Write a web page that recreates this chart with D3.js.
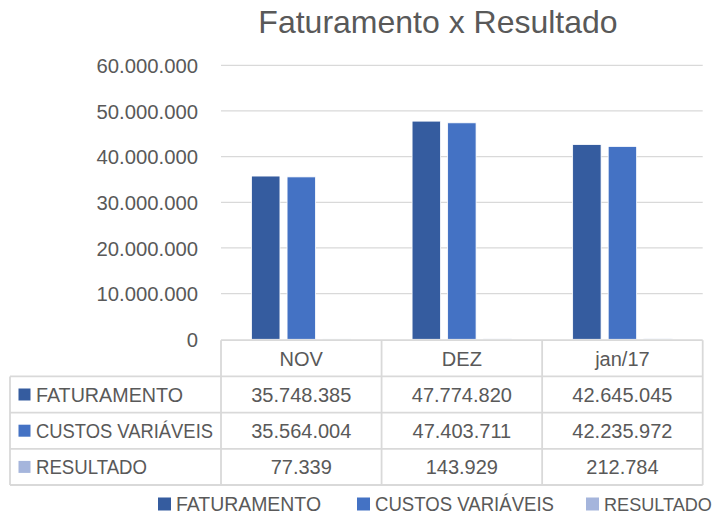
<!DOCTYPE html>
<html>
<head>
<meta charset="utf-8">
<script src="https://cdn.jsdelivr.net/npm/d3@7"></script>
<style>
  html, body { margin: 0; padding: 0; background: #fff; }
  svg { display: block; }
  text { font-family: "Liberation Sans", Arial, sans-serif; fill: #595959; }
</style>
</head>
<body>
<svg id="chart" width="717" height="516"></svg>
<script>
const title = "Faturamento x Resultado";
const categories = ["NOV", "DEZ", "jan/17"];
const seriesNames = ["FATURAMENTO", "CUSTOS VARIÁVEIS", "RESULTADO"];
const faturamento = [35748385, 47774820, 42645045];
const custos = [35564004, 47403711, 42235972];
const resultado = [77339, 143929, 212784];
const yTicks = [0, 10000000, 20000000, 30000000, 40000000, 50000000, 60000000];
const colors = ["#355C9F", "#4472C4", "#A5B5DC"];

const seriesValues = [faturamento, custos, resultado];

const locale = d3.formatLocale({ decimal: ",", thousands: ".", grouping: [3], currency: ["", ""] });
const fmt = locale.format(",.0f");

const svg = d3.select("#chart");

const plotLeft = 221, plotRight = 702.7, plotTop = 65.3, plotBottom = 339.3;

const y = d3.scaleLinear().domain([0, 60000000]).range([plotBottom, plotTop]);
const x0 = d3.scaleBand().domain(categories).range([plotLeft, plotRight]).paddingInner(0).paddingOuter(0);
const bw = x0.bandwidth();
const x1 = d3.scaleBand().domain(seriesNames).range([bw * 0.19, bw * 0.81]).paddingInner(0.2).paddingOuter(0);

// shrink horizontally via textLength (keeps cap height of the original)
function fitWidth(sel, maxW) {
  const w = sel.node().getComputedTextLength();
  if (w > maxW) sel.attr("textLength", maxW).attr("lengthAdjust", "spacingAndGlyphs");
  return sel;
}
// shrink by font size so the real box fits
function fitSize(sel, maxW, base) {
  const w = sel.node().getComputedTextLength();
  if (w > maxW) sel.style("font-size", (base * maxW / w) + "px");
  return sel;
}

// title
svg.append("text")
  .attr("x", 438).attr("y", 33)
  .attr("text-anchor", "middle")
  .style("font-size", "32px")
  .text(title);

// y axis labels
const yAxis = d3.axisLeft(y).tickValues(yTicks).tickFormat(fmt).tickSize(0).tickPadding(0);
const gAxis = svg.append("g").attr("transform", `translate(198,0)`).call(yAxis);
gAxis.select(".domain").remove();
gAxis.selectAll("text").style("font-size", "20.3px").style("fill", "#595959")
  .style("font-family", '"Liberation Sans", Arial, sans-serif').attr("dy", "0.36em");

// gridlines
svg.append("g").selectAll("line")
  .data(yTicks.filter(d => d > 0))
  .join("line")
  .attr("x1", plotLeft).attr("x2", plotRight)
  .attr("y1", d => y(d)).attr("y2", d => y(d))
  .attr("stroke", "#d9d9d9").attr("stroke-width", 1.2);

// bars
const gBars = svg.append("g");
categories.forEach((c, ci) => {
  seriesNames.forEach((s, si) => {
    const v = seriesValues[si][ci];
    gBars.append("rect")
      .attr("x", x0(c) + x1(s))
      .attr("y", y(v))
      .attr("width", x1.bandwidth())
      .attr("height", y(0) - y(v))
      .attr("fill", colors[si])
      .attr("stroke", "#ffffff")
      .attr("stroke-width", 0.8);
  });
});

// data table
const tableLeft = 10;
const rowH = 36.2;
const tableTop = plotBottom + 0.9;
const rowYs = d3.range(5).map(i => tableTop + i * rowH);
const colXs = [tableLeft, plotLeft].concat(categories.map(c => x0(c) + bw));
const gT = svg.append("g");
const lineColor = "#d9d9d9";
rowYs.forEach((ry, i) => {
  gT.append("line")
    .attr("x1", i === 0 ? plotLeft : tableLeft).attr("x2", plotRight)
    .attr("y1", ry).attr("y2", ry)
    .attr("stroke", lineColor).attr("stroke-width", 1.8);
});
colXs.forEach((cx, i) => {
  gT.append("line")
    .attr("x1", cx).attr("x2", cx)
    .attr("y1", i === 0 ? rowYs[1] : rowYs[0]).attr("y2", rowYs[4])
    .attr("stroke", lineColor).attr("stroke-width", 1.8);
});
categories.forEach(c => {
  gT.append("text")
    .attr("x", x0(c) + bw / 2).attr("y", rowYs[0] + rowH / 2)
    .attr("dy", "0.36em").attr("text-anchor", "middle")
    .style("font-size", "20px").text(c);
});
const rowLabelW = [147, 177, 111];
seriesNames.forEach((s, si) => {
  const cy = rowYs[si + 1] + rowH / 2;
  gT.append("rect")
    .attr("x", 18.5).attr("y", cy - 6).attr("width", 12).attr("height", 12)
    .attr("fill", colors[si]);
  const t = gT.append("text")
    .attr("x", 36).attr("y", cy).attr("dy", "0.36em")
    .style("font-size", "20px").text(s);
  fitWidth(t, rowLabelW[si]);
  categories.forEach((c, ci) => {
    gT.append("text")
      .attr("x", x0(c) + bw / 2).attr("y", cy).attr("dy", "0.36em")
      .attr("text-anchor", "middle")
      .style("font-size", "20px").text(fmt(seriesValues[si][ci]));
  });
});

// legend
const legendX = [158, 357, 586];
const legendW = [145, 179, 108];
const legendCy = 504;
const gL = svg.append("g");
seriesNames.forEach((s, si) => {
  gL.append("rect")
    .attr("x", legendX[si]).attr("y", legendCy - 6.5).attr("width", 13).attr("height", 13)
    .attr("fill", colors[si]);
  const t = gL.append("text")
    .attr("x", legendX[si] + 18).attr("y", legendCy).attr("dy", "0.36em")
    .style("font-size", "20px").text(s);
  if (si === seriesNames.length - 1) fitSize(t, legendW[si], 20);
  else fitWidth(t, legendW[si]);
});
</script>
</body>
</html>
